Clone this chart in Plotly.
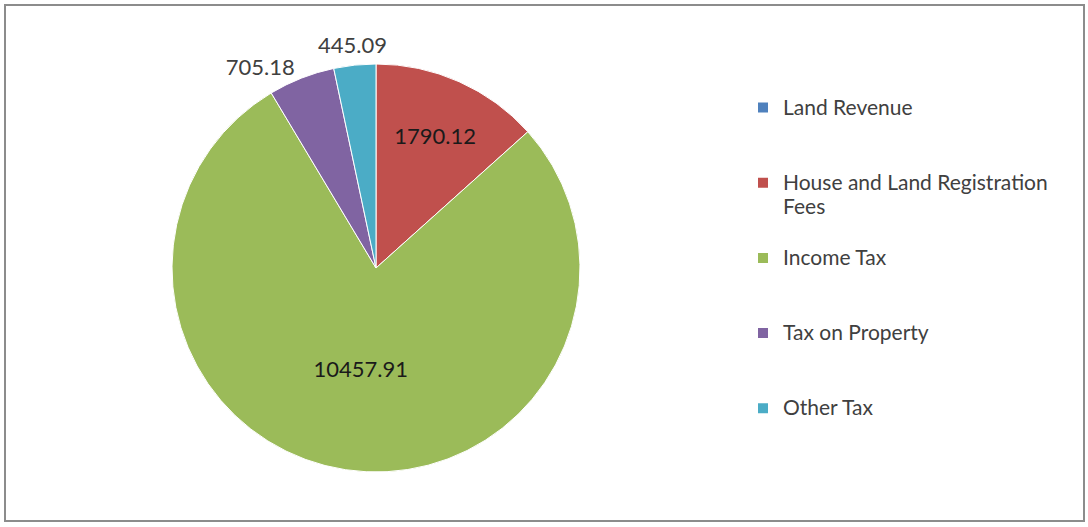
import math
import plotly.graph_objects as go

categories = ["Land Revenue", "House and Land Registration Fees", "Income Tax", "Tax on Property", "Other Tax"]
values = [0, 1790.12, 10457.91, 705.18, 445.09]
colors = ["#4F81BD", "#C0504D", "#9BBB59", "#8064A2", "#4BACC6"]

W, H = 1088, 527
cx, cy, r = 376, 268, 204

# legend labels: wrap long names and pad with blank lines for Excel-like spacing
def legend_label(name):
    span = "<span style='font-size:21px'>{}</span>"
    if name.startswith("House"):
        return " <br>" + span.format("House and Land Registration") + "<br>" + span.format("Fees")
    return " <br>" + span.format(name) + "<br> "

texts = ["" if v == 0 else f"{v:.2f}" for v in values]
# big slices: label inside; purple: native outside; small last slice: annotation at its mid-angle
positions = []
for i, v in enumerate(values):
    if v == 0:
        positions.append("none")
    elif v > 1000:
        positions.append("inside")
    elif i == len(values) - 2:
        positions.append("outside")
    else:
        positions.append("none")

fig = go.Figure(go.Pie(
    labels=[legend_label(c) for c in categories],
    values=values,
    text=texts,
    textinfo="text",
    textposition=positions,
    insidetextorientation="horizontal",
    sort=False,
    direction="clockwise",
    rotation=0,
    marker=dict(colors=colors, line=dict(color="white", width=1)),
    textfont=dict(family="Lato", size=22),
    insidetextfont=dict(family="Lato", size=22, color="#1a1a1a"),
    outsidetextfont=dict(family="Lato", size=22, color="#404040"),
    domain=dict(x=[(cx - r) / W, (cx + r) / W], y=[1 - (cy + r) / H, 1 - (cy - r) / H]),
    showlegend=True,
))

# annotation for the last small slice, placed from its computed mid-angle
total = sum(values)
start = sum(values[:-1]) / total * 360
mid = math.radians(start + values[-1] / total * 360 / 2)
rad = r * 1.1
ax = cx + rad * math.sin(mid)
ay = cy - rad * math.cos(mid)

fig.update_layout(
    width=W, height=H,
    margin=dict(l=0, r=0, t=0, b=0),
    paper_bgcolor="white",
    font=dict(family="Lato", color="#404040"),
    legend=dict(
        x=743 / W, y=1 - 65 / H, xanchor="left", yanchor="top",
        font=dict(family="Lato", size=18.5, color="#404040"),
        itemsizing="constant",
        bgcolor="rgba(0,0,0,0)",
    ),
    annotations=[dict(x=ax / W, y=1 - ay / H, xref="paper", yref="paper",
                      text=texts[-1], showarrow=False, xanchor="center", yanchor="middle",
                      font=dict(family="Lato", size=22, color="#404040"))],
    shapes=[dict(type="rect", xref="paper", yref="paper",
                 x0=5 / W, x1=1084 / W, y0=1 - 521 / H, y1=1 - 5 / H,
                 line=dict(color="#8c8c8c", width=2))],
)

fig.write_html("out.html")
